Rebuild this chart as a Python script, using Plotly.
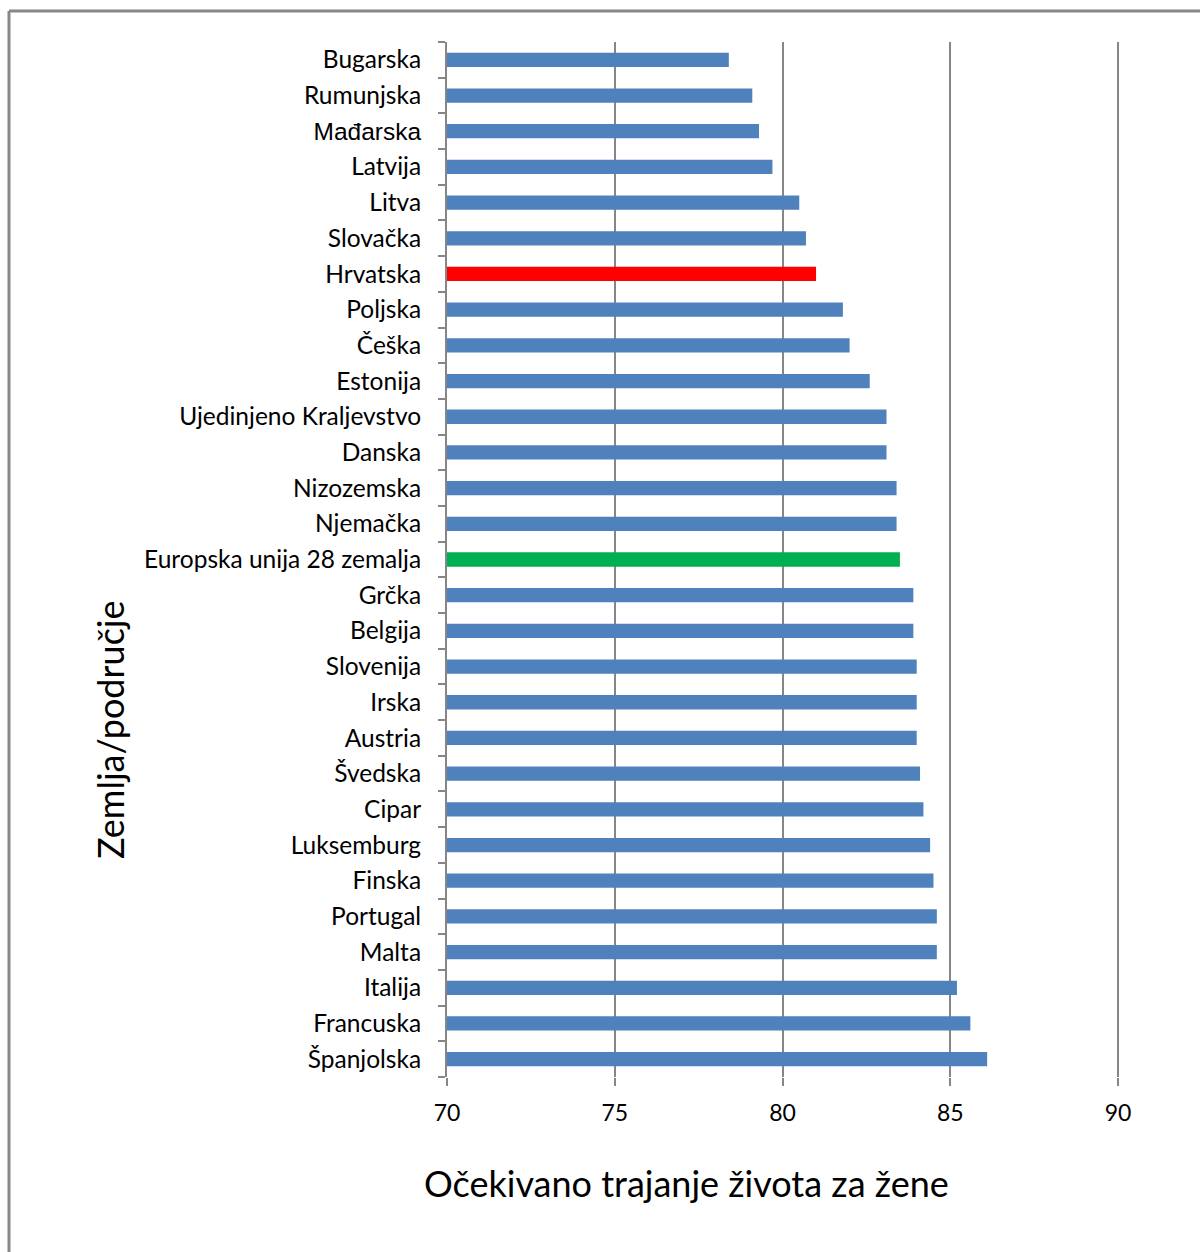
import plotly.graph_objects as go

countries = ["Bugarska", "Rumunjska", "Mađarska", "Latvija", "Litva", "Slovačka",
             "Hrvatska", "Poljska", "Češka", "Estonija", "Ujedinjeno Kraljevstvo",
             "Danska", "Nizozemska", "Njemačka", "Europska unija 28 zemalja", "Grčka",
             "Belgija", "Slovenija", "Irska", "Austria", "Švedska", "Cipar",
             "Luksemburg", "Finska", "Portugal", "Malta", "Italija", "Francuska",
             "Španjolska"]
values = [78.4, 79.1, 79.3, 79.7, 80.5, 80.7, 81.0, 81.8, 82.0, 82.6, 83.1, 83.1,
          83.4, 83.4, 83.5, 83.9, 83.9, 84.0, 84.0, 84.0, 84.1, 84.2, 84.4, 84.5,
          84.6, 84.6, 85.2, 85.6, 86.1]
x_ticks = [70, 75, 80, 85, 90]

BLUE, RED, GREEN = "#4F81BD", "#FF0000", "#00B050"
colors = [RED if c == "Hrvatska" else GREEN if c.startswith("Europska") else BLUE
          for c in countries]
ticktext = [f'<span style="font-family:Arial">{c}</span>' if c == "Mađarska" else c
            for c in countries]

FONT = "Lato"
W, H = 1200, 1252
L, R, T, B = 447, 1200 - 1119, 42, 1252 - 1077
pw, ph = W - L - R, H - T - B

def px(x):
    return (x - L) / pw

def py(y):
    return (H - B - y) / ph

fig = go.Figure(go.Bar(
    x=values, y=countries, orientation="h",
    marker=dict(color=colors, line=dict(width=0)),
))

fig.update_layout(
    width=W, height=H,
    margin=dict(l=L, r=R, t=T, b=B, autoexpand=False),
    paper_bgcolor="white", plot_bgcolor="white",
    bargap=0.6,
    showlegend=False,
    font=dict(family=FONT, color="black", size=24),
    xaxis=dict(
        range=[70, 90.03], tickvals=x_ticks, ticktext=[str(v) for v in x_ticks],
        showgrid=True, gridcolor="#868686", gridwidth=1.5,
        ticks="outside", ticklen=8, tickcolor="#868686", tickwidth=1.5,
        showline=False, zeroline=False,
        tickfont=dict(family=FONT, size=23), ticklabelstandoff=7,
    ),
    yaxis=dict(
        categoryorder="array", categoryarray=countries, autorange="reversed",
        tickvals=countries, ticktext=ticktext,
        tickson="boundaries", ticks="outside", ticklen=7, tickcolor="#868686",
        tickwidth=1.5, showline=True, linecolor="#868686", linewidth=2,
        showgrid=False, zeroline=False,
        tickfont=dict(family=FONT, size=24.5), ticklabelstandoff=19,
    ),
    annotations=[
        dict(text="Očekivano trajanje života za žene", xref="paper", yref="paper",
             x=px(686), y=py(1183), xanchor="center", yanchor="middle",
             showarrow=False, font=dict(family=FONT, size=36, color="black")),
        dict(text="Zemlja/područje", xref="paper", yref="paper",
             x=px(110), y=py(730), xanchor="center", yanchor="middle",
             textangle=-90, showarrow=False,
             font=dict(family=FONT, size=36, color="black")),
    ],
    shapes=[
        dict(type="line", xref="paper", yref="paper", x0=px(9), x1=px(1210),
             y0=py(11), y1=py(11), line=dict(color="#888888", width=3)),
        dict(type="line", xref="paper", yref="paper", x0=px(9), x1=px(9),
             y0=py(11), y1=py(1260), line=dict(color="#888888", width=3)),
    ],
)

fig.write_html("out.html", config={"displayModeBar": False},
               post_script="document.body.style.margin='0';document.body.style.overflow='hidden';")
